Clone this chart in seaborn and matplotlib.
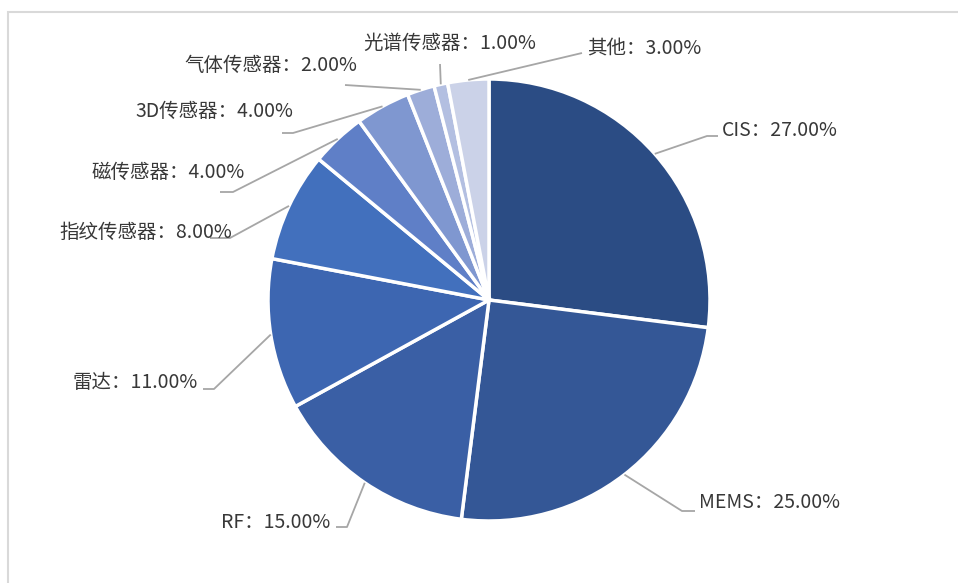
import numpy as np
import matplotlib
matplotlib.use("Agg")
import matplotlib.pyplot as plt
from matplotlib.patches import Rectangle
import seaborn as sns

# 数据
categories = ['CIS', 'MEMS', 'RF', '雷达', '指纹传感器', '磁传感器', '3D传感器', '气体传感器', '光谱传感器', '其他']
shares = [27, 25, 15, 11, 8, 4, 4, 2, 1, 3]
colors = ['#2B4C84', '#345796', '#3A5FA5', '#3D66B1', '#4270BD',
          '#5F7FC7', '#7F97D0', '#9DADD9', '#B3BFE1', '#CBD2E8']

sns.set_theme(style="white")
plt.rcParams['font.family'] = ['Noto Sans CJK SC', 'DejaVu Sans']

W, H = 958, 583
CX, CY, R = 489, 300, 221

fig = plt.figure(figsize=(W / 100, H / 100), dpi=100)
ax = fig.add_axes([0, 0, 1, 1])

wedges, _ = ax.pie(shares, colors=colors, startangle=90, counterclock=False,
                   radius=1.0, wedgeprops=dict(edgecolor='white', linewidth=2.5))
ax.set_aspect('auto')
ax.set_xlim(-CX / R, (W - CX) / R)
ax.set_ylim(-(H - CY) / R, CY / R)
ax.axis('off')


def px(x, y):
    return (x - CX) / R, (CY - y) / R


# 标签布局：折点、终点、文字位置、对齐
layout = [
    ((707, 136), (718, 136), (722, 131), 'left'),
    ((682, 511), (695, 511), (699, 503), 'left'),
    ((347, 527), (336, 527), (330, 522), 'right'),
    ((214, 389), (203, 389), (198, 383), 'right'),
    ((230, 238), (210, 238), (232, 232), 'right'),
    ((233, 192), (220, 192), (245, 172), 'right'),
    ((293, 133), (282, 133), (293, 111), 'right'),
    ((345, 85), (345, 85), (357, 65), 'right'),
    ((440, 64), (440, 64), (450, 43), 'center'),
    ((582, 53), (582, 53), (587, 49), 'left'),
]

for w, name, val, (elbow, end, tpos, ha) in zip(wedges, categories, shares, layout):
    ang = np.deg2rad((w.theta1 + w.theta2) / 2)
    sx, sy = np.cos(ang) * 1.0, np.sin(ang) * 1.0
    ex, ey = px(*elbow)
    fx, fy = px(*end)
    ax.plot([sx, ex, fx], [sy, ey, fy], color='#A6A6A6', lw=1.3, solid_capstyle='butt')
    tx, ty = px(*tpos)
    ax.text(tx, ty, f'{name}：{val:.2f}%', ha=ha, va='center',
            fontsize=14, fontweight='medium', color='#383838')

fig.patches.append(Rectangle((8 / W, -0.1), 1.2, 1.1 - 12 / H,
                             transform=fig.transFigure, fill=False,
                             edgecolor='#D9D9D9', lw=1.5))

fig.savefig('out.png', dpi=100)
